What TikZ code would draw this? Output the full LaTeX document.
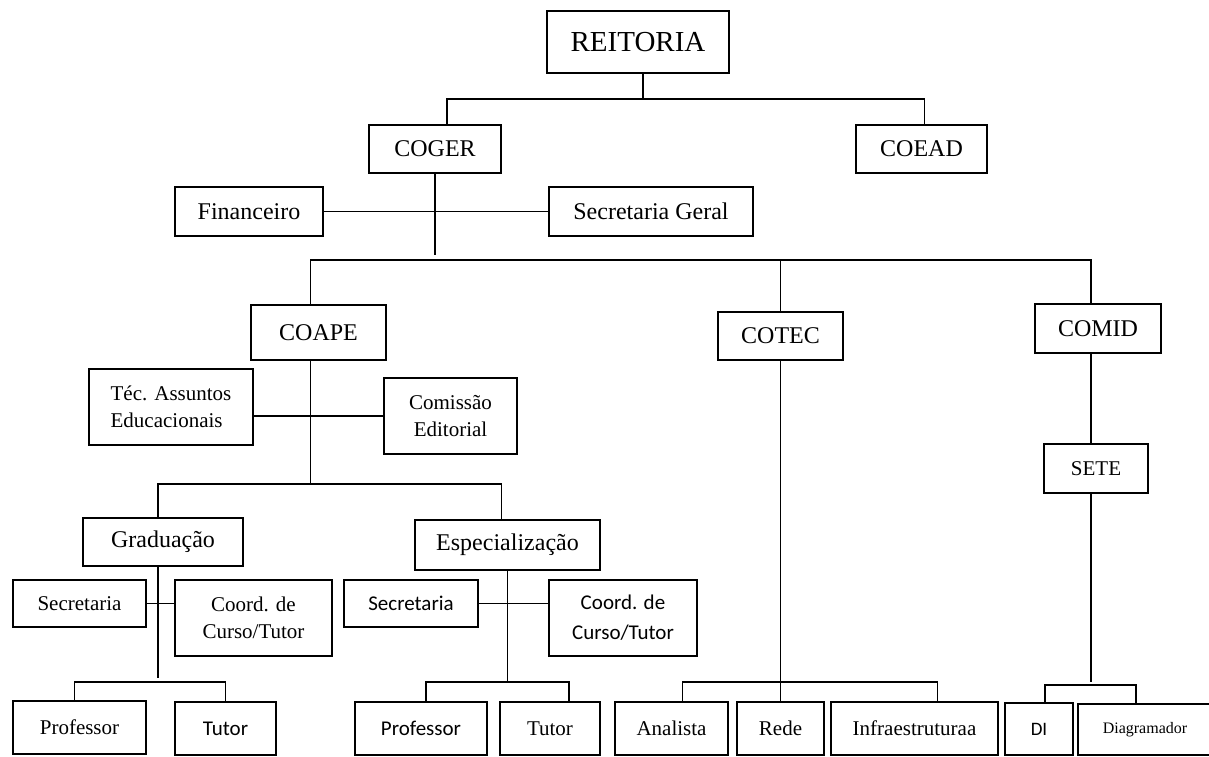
\documentclass[tikz,border=0pt]{standalone}
\usepackage{fontspec}
\setmainfont{Liberation Serif}
\newfontfamily\calibri{Carlito}
\usepackage{tikz}
\usetikzlibrary{calc}
\tikzstyle{Obox}=[shape=rectangle,draw=black,line width=1.8pt,inner sep=0pt,align=center,font=\fontsize{24}{29}\selectfont]
\tikzstyle{Sbox}=[Obox,font=\fontsize{21}{27}\selectfont]
\tikzstyle{Cbox}=[Obox,font=\calibri\fontsize{21}{30}\selectfont]
\tikzstyle{orgline}=[-,line width=1.7pt]
\tikzset{wh/.style 2 args={minimum width=#1pt,minimum height=#2pt}}

\begin{document}
\begin{tikzpicture}[x=1pt,y=-1pt]

\path[use as bounding box,fill=white] (0,0) rectangle (1209,756);

\node[Obox,wh={182}{62},font=\fontsize{29}{34}\selectfont] (REIT) at (638,42) {REITORIA};

\node[Obox,wh={132}{48}] (COGER) at (435,149) {COGER};
\node[Obox,wh={131}{48}] (COEAD) at (921.5,149) {COEAD};

\node[Obox,wh={148}{49}] (FIN) at (249,211.5) {Financeiro};
\node[Obox,wh={204}{49}] (SECG) at (651,211.5) {Secretaria Geral};

\node[Obox,wh={135}{55}] (COAPE) at (318.5,332.5) {COAPE};
\node[Obox,wh={125}{48}] (COTEC) at (780.5,336) {COTEC};
\node[Obox,wh={126}{49}] (COMID) at (1098,328.5) {COMID};

\node[Sbox,wh={164}{76},align=left] (TEC) at (171,407) {Téc. Assuntos\\Educacionais};
\node[Sbox,wh={133}{76}] (COMIS) at (450.5,416) {Comissão\\Editorial};
\node[Sbox,wh={104}{49}] (SETE) at (1096,468.5) {SETE};

\node[Obox,wh={160}{48}] (GRAD) at (163,542) {Graduação};
\node[Obox,wh={185}{50}] (ESPEC) at (507.5,545) {Especialização};

\node[Sbox,wh={133}{47}] (SECA) at (79.5,603.5) {Secretaria};
\node[Sbox,wh={157}{76}] (COORDA) at (253.5,618) {Coord. de\\Curso/Tutor};
\node[Cbox,wh={134}{47}] (SECB) at (411,603.5) {Secretaria};
\node[Cbox,wh={148}{76}] (COORDB) at (623,618) {Coord. de\\Curso/Tutor};

\node[Sbox,wh={133}{53}] (PROFA) at (79.5,727.5) {Professor};
\node[Cbox,wh={101}{53}] (TUTA) at (225.5,728.5) {Tutor};
\node[Cbox,wh={132}{53}] (PROFB) at (421,728.5) {Professor};
\node[Sbox,wh={100}{53}] (TUTB) at (550,728.5) {Tutor};
\node[Sbox,wh={113}{53}] (ANAL) at (671.5,728.5) {Analista};
\node[Sbox,wh={87}{53}] (REDE) at (780.5,728.5) {Rede};
\node[Sbox,wh={167}{53}] (INFRA) at (914.5,728.5) {Infraestruturaa};
\node[Cbox,wh={68}{52},font=\calibri\fontsize{19}{23}\selectfont] (DI) at (1039,729) {DI};
\node[Sbox,wh={134}{51},font=\fontsize{16}{19}\selectfont] (DIAG) at (1145,729.5) {Diagramador};

% levels of the horizontal bars
\coordinate (Y1) at (0,99);
\coordinate (Y2) at (0,260);
\coordinate (Y3) at (0,484);
\coordinate (Y4) at (0,682);
\coordinate (Y5) at (0,685);

\draw[orgline] ($(REIT.south)+(5,0)$) -- ($(REIT.south |- Y1)+(5,0)$);
\draw[orgline] ($(COGER.north)+(12,0)$) |- ($(COEAD.north |- Y1)+(3,0)$) -- ($(COEAD.north)+(3,0)$);
\draw[orgline] (COGER.south) -- ++(0,81);
\draw[orgline] (FIN) -- (SECG);

\draw[orgline] ($(COAPE.north)+(-8,0)$) |- ($(COMID.north |- Y2)+(-7,0)$) -- ($(COMID.north)+(-7,0)$);
\draw[orgline] (COTEC.north) -- (COTEC.north |- Y2);
\draw[orgline] (COTEC) -- (REDE);
\draw[orgline] ($(COAPE.south)+(-8,0)$) -- ($(COAPE.south |- Y3)+(-8,0)$);
\draw[orgline] (COMIS.west) -- (COMIS.west -| TEC.east);
\draw[orgline] ($(GRAD.north)+(-5,0)$) |- ($(ESPEC.north |- Y3)+(-6,0)$) -- ($(ESPEC.north)+(-6,0)$);
\draw[orgline] ($(GRAD.south)+(-5,0)$) -- ++(0,111);
\draw[orgline] (ESPEC.south) -- ++(0,111);
\draw[orgline] (SECA.east) -- (SECA.east -| COORDA.west);
\draw[orgline] (SECB.east) -- (SECB.east -| COORDB.west);
\draw[orgline] ($(COMID.south)+(-7,0)$) -- ($(COMID.south |- SETE.north)+(-7,0)$);
\draw[orgline] ($(SETE.south)+(-5,0)$) -- ++(0,188);

% bottom rows
\draw[orgline] ($(PROFA.north)+(-5,0)$) |- (TUTA.north |- Y4) -- (TUTA.north);
\draw[orgline] ($(PROFB.north)+(5,0)$) |- ($(TUTB.north |- Y4)+(19,0)$) -- ($(TUTB.north)+(19,0)$);
\draw[orgline] ($(ANAL.north)+(11,0)$) |- ($(INFRA.north |- Y4)+(23,0)$) -- ($(INFRA.north)+(23,0)$);
\draw[orgline] ($(DI.north)+(6,0)$) |- ($(DIAG.north |- Y5)+(-9,0)$) -- ($(DIAG.north)+(-9,0)$);

\end{tikzpicture}
\end{document}
